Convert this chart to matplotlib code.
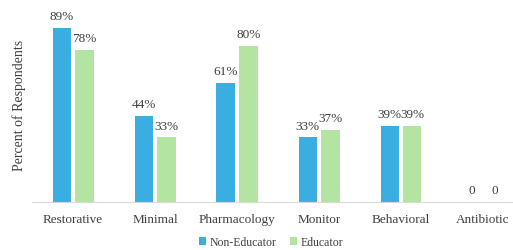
import numpy as np
import matplotlib
matplotlib.use("Agg")
import matplotlib.pyplot as plt

# === Data ===
categories = ["Restorative", "Minimal", "Pharmacology", "Monitor", "Behavioral", "Antibiotic"]
non_educator = [89, 44, 61, 33, 39, 0]
educator = [78, 33, 80, 37, 39, 0]
non_edu_labels = ["89%", "44%", "61%", "33%", "39%", "0"]
edu_labels = ["78%", "33%", "80%", "37%", "39%", "0"]

blue = "#3AAEE0"
green = "#B3E4A1"

plt.rcParams['font.family'] = ['Liberation Serif', 'DejaVu Serif']

fig = plt.figure(figsize=(5.13, 2.51), dpi=100)
ax = fig.add_axes([32 / 513, 48 / 251, 492 / 513, 195.5 / 251])

x = np.arange(len(categories))
w = 0.22
off = 0.14
b1 = ax.bar(x - off, non_educator, w, color=blue, label="Non-Educator")
b2 = ax.bar(x + off, educator, w, color=green, label="Educator")

for rect, lab in zip(b1, non_edu_labels):
    ax.text(rect.get_x() + rect.get_width() / 2, rect.get_height() + 3, lab,
            ha='center', va='bottom', fontsize=9.5, color='#404040')
for rect, lab in zip(b2, edu_labels):
    ax.text(rect.get_x() + rect.get_width() / 2, rect.get_height() + 3, lab,
            ha='center', va='bottom', fontsize=9.5, color='#404040')

ax.set_xlim(-0.5, 5.5)
ax.set_ylim(0, 100)
ax.set_xticks(x)
ax.set_xticklabels(categories, fontsize=9.5, color='#404040')
ax.tick_params(axis='x', length=0, pad=8)
ax.set_yticks([])
ax.set_ylabel("Percent of Respondents", fontsize=10, color='#404040', labelpad=4)
for s in ['top', 'right', 'left']:
    ax.spines[s].set_visible(False)
ax.spines['bottom'].set_color('#d9d9d9')

fig.legend(handles=[b1, b2], loc='center', bbox_to_anchor=(271 / 513, 8 / 251),
           ncol=2, frameon=False, fontsize=8.5, handlelength=0.6, handleheight=0.6,
           handletextpad=0.3, columnspacing=1.2, labelcolor='#404040')

fig.savefig("out.png", dpi=100)
